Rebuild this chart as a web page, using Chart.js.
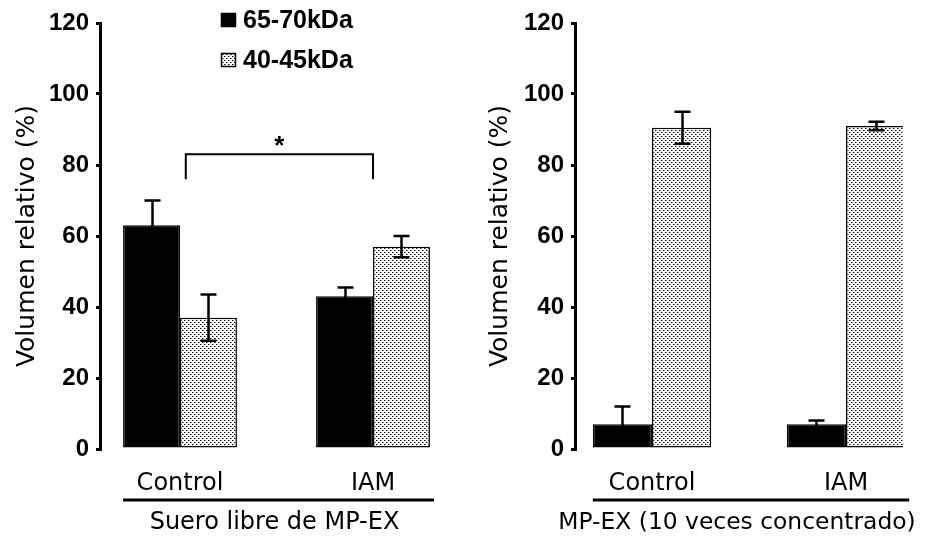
<!DOCTYPE html>
<html><head><meta charset="utf-8">
<script src="https://cdn.jsdelivr.net/npm/chart.js@4"></script>
<style>
html,body{margin:0;padding:0;background:#fff;}
#wrap{position:relative;width:931px;height:538px;overflow:hidden;}
canvas{position:absolute;top:0;}
#c1{left:0;}
#c2{left:465px;}
</style></head><body>
<div id="wrap"><canvas id="c1" width="465" height="538"></canvas><canvas id="c2" width="466" height="538"></canvas></div>
<script>
// ---- data ----
const categories = ['Control', 'IAM'];
const seriesNames = ['65-70kDa', '40-45kDa'];
const yTicks = [0, 20, 40, 60, 80, 100, 120];
const yTitle = 'Volumen relativo (%)';
const groupTitles = ['Suero libre de MP-EX', 'MP-EX (10 veces concentrado)'];
// Panel 1: Suero libre de MP-EX
const serumHeavy = [63, 43];
const serumHeavyErr = [7, 2.5];
const serumLight = [37, 57];
const serumLightErr = [6.5, 3];
// Panel 2: MP-EX (10 veces concentrado)
const concHeavy = [7, 7];
const concHeavyErr = [5, 1];
const concLight = [90.5, 91];
const concLightErr = [4.5, 1.2];
// significance bracket (panel 1): from x, to x, top value, drop value, label
const sigFrom = [0.03], sigTo = [1], sigTop = [83], sigDrop = [76], sigLabel = ['*'];

// ---- stipple pattern ----
function makePattern() {
  const t = document.createElement('canvas');
  t.width = 4; t.height = 4;
  const g = t.getContext('2d');
  g.fillStyle = '#ffffff'; g.fillRect(0, 0, 4, 4);
  g.fillStyle = '#000000'; g.fillRect(0, 0, 1, 1); g.fillRect(2, 2, 1, 1);
  g.fillStyle = '#8a8a8a'; g.fillRect(1, 0, 1, 1); g.fillRect(3, 2, 1, 1);
  return document.createElement('canvas').getContext('2d').createPattern(t, 'repeat');
}
const stipple = makePattern();

const errorBars = {
  id: 'errorBars',
  afterDatasetsDraw(chart) {
    const ctx = chart.ctx, ys = chart.scales.y;
    ctx.save();
    ctx.strokeStyle = '#000'; ctx.lineWidth = 2.5;
    chart.data.datasets.forEach((ds, di) => {
      const meta = chart.getDatasetMeta(di);
      meta.data.forEach((bar, i) => {
        const v = ds.data[i].y, e = ds.errors[i];
        const x = Math.round(bar.x) + 0.5;
        const yt = ys.getPixelForValue(v + e), yb = ys.getPixelForValue(v - e);
        ctx.beginPath();
        ctx.moveTo(x, yt); ctx.lineTo(x, yb);
        ctx.moveTo(x - 8, yt); ctx.lineTo(x + 8, yt);
        ctx.moveTo(x - 8, yb); ctx.lineTo(x + 8, yb);
        ctx.stroke();
      });
    });
    ctx.restore();
  }
};

const groupLine = {
  id: 'groupLine',
  afterDraw(chart, args, opts) {
    const ctx = chart.ctx;
    const m0 = chart.getDatasetMeta(0), m1 = chart.getDatasetMeta(chart.data.datasets.length - 1);
    const b0 = m0.data[0], b1 = m1.data[m1.data.length - 1];
    const x0 = b0.x - b0.width / 2, x1 = b1.x + b1.width / 2 + 4;
    ctx.save();
    ctx.strokeStyle = '#000'; ctx.lineWidth = 3;
    ctx.beginPath(); ctx.moveTo(x0, 500); ctx.lineTo(x1, 500); ctx.stroke();
    ctx.fillStyle = '#000';
    ctx.font = opts.size + 'px "DejaVu Sans", sans-serif';
    ctx.textAlign = 'center'; ctx.textBaseline = 'middle';
    ctx.fillText(opts.title, (x0 + x1) / 2 + opts.shift, 523);
    ctx.restore();
  }
};

const legendPlugin = {
  id: 'customLegend',
  afterDraw(chart) {
    const ctx = chart.ctx;
    ctx.save();
    ctx.font = 'bold 25px "Liberation Sans", Arial, sans-serif';
    ctx.textBaseline = 'middle'; ctx.textAlign = 'left'; ctx.fillStyle = '#000';
    chart.data.datasets.forEach((ds, i) => {
      const y = 13 + i * 40;
      ctx.fillStyle = ds.backgroundColor;
      ctx.fillRect(221, y, 15, 14);
      ctx.strokeStyle = '#000'; ctx.lineWidth = 1.5;
      ctx.strokeRect(221.5, y + 0.5, 14, 13);
      ctx.fillStyle = '#000';
      ctx.fillText(ds.label, 243, y + 8);
    });
    ctx.restore();
  }
};

const bracketPlugin = {
  id: 'bracket',
  afterDraw(chart) {
    const ctx = chart.ctx, xs = chart.scales.x, ys = chart.scales.y;
    ctx.save();
    ctx.strokeStyle = '#000'; ctx.fillStyle = '#000';
    sigFrom.forEach((f, i) => {
      const x0 = xs.getPixelForValue(f), x1 = xs.getPixelForValue(sigTo[i]);
      const yt = ys.getPixelForValue(sigTop[i]), yd = ys.getPixelForValue(sigDrop[i]);
      ctx.lineWidth = 2;
      ctx.beginPath();
      ctx.moveTo(x0, yd); ctx.lineTo(x0, yt); ctx.lineTo(x1, yt); ctx.lineTo(x1, yd);
      ctx.stroke();
      ctx.font = 'bold 26px "Liberation Sans", Arial, sans-serif';
      ctx.textAlign = 'center'; ctx.textBaseline = 'alphabetic';
      ctx.fillText(sigLabel[i], (x0 + x1) / 2, yt);
    });
    ctx.restore();
  }
};

function makeChart(id, heavy, heavyErr, light, lightErr, title, geo, extraPlugins) {
  const cv = document.getElementById(id);
  return new Chart(cv, {
    type: 'bar',
    data: {
      datasets: [
        { label: seriesNames[0], data: heavy.map((v, i) => ({ x: i, y: v })), errors: heavyErr,
          backgroundColor: '#000', borderColor: '#000', borderWidth: 1.5, borderSkipped: false,
          categoryPercentage: geo.catPct, barPercentage: 1 },
        { label: seriesNames[1], data: light.map((v, i) => ({ x: i, y: v })), errors: lightErr,
          backgroundColor: stipple, borderColor: '#000', borderWidth: 1.5, borderSkipped: false,
          categoryPercentage: geo.catPct, barPercentage: 1 }
      ]
    },
    options: {
      responsive: false, animation: false, events: [],
      layout: { padding: { top: 23, left: 0, bottom: 0, right: cv.width - geo.right } },
      plugins: { legend: { display: false }, tooltip: { enabled: false },
        groupLine: { title: title, shift: geo.titleShift, size: geo.titleSize } },
      scales: {
        x: {
          type: 'linear', min: geo.xmin, max: geo.xmax, offset: false,
          grid: { display: false, drawTicks: false }, border: { display: false },
          ticks: { stepSize: 1, includeBounds: false, autoSkip: false, maxRotation: 0, padding: 20,
            color: '#000', font: { family: '"DejaVu Sans"', size: 24 },
            callback: (v) => (categories[v] !== undefined ? categories[v] : '') },
          title: { display: false },
          afterFit: (s) => { s.height = 89; }
        },
        y: {
          min: 0, max: 120,
          afterBuildTicks: (s) => { s.ticks = yTicks.map(v => ({ value: v })); },
          ticks: { color: '#000', padding: 7, font: { family: '"Liberation Sans", Arial', weight: 'bold', size: 24 } },
          grid: { drawOnChartArea: false, drawTicks: true, tickLength: 4, color: '#000', lineWidth: 3 },
          border: { display: true, color: '#000', width: 3 },
          title: { display: true, text: yTitle, color: '#000', font: { family: '"DejaVu Sans"', size: 25 },
            padding: { top: geo.titlePad, bottom: 0 } },
          afterFit: (s) => { s.width = geo.axisX; }
        }
      }
    },
    plugins: [errorBars, groupLine].concat(extraPlugins)
  });
}

makeChart('c1', serumHeavy, serumHeavyErr, serumLight, serumLightErr, groupTitles[0],
  { axisX: 100, right: 445, xmin: -80 / 193, xmax: 1 + 72 / 193, catPct: 0.59, titlePad: 12, titleShift: -4, titleSize: 24 },
  [legendPlugin, bracketPlugin]);
makeChart('c2', concHeavy, concHeavyErr, concLight, concLightErr, groupTitles[1],
  { axisX: 110, right: 438, xmin: -77 / 194, xmax: 1 + 57 / 194, catPct: 0.61, titlePad: 20, titleShift: -14, titleSize: 23.4 },
  []);
</script>
</body></html>
